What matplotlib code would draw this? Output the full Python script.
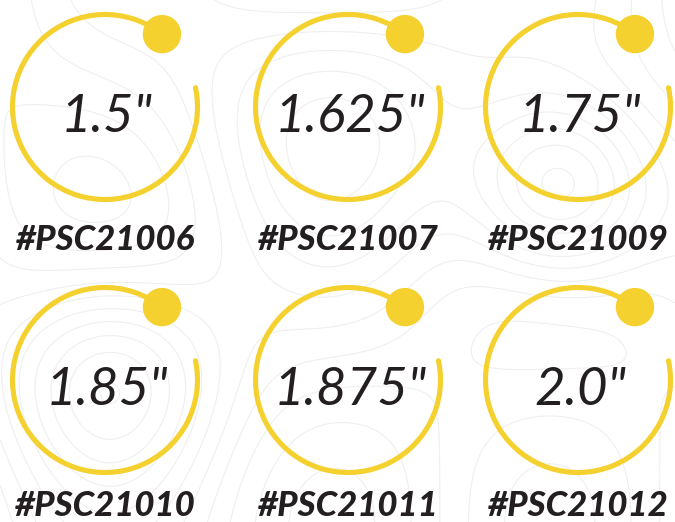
import numpy as np
import matplotlib
matplotlib.use("Agg")
import matplotlib.pyplot as plt
from matplotlib.patches import Arc, Circle

# gauge data
sizes = ['1.5"', '1.625"', '1.75"', '1.85"', '1.875"', '2.0"']
codes = ["#PSC21006", "#PSC21007", "#PSC21009", "#PSC21010", "#PSC21011", "#PSC21012"]

YELLOW = "#F4D12F"
INK = "#231F20"
W, H = 675, 522

col_x = [105, 348, 578]
row_y = [107, 380]          # image coords (from top)
label_y = [250, 516]        # label baselines, image coords
R = 92.5
ARC_START, ARC_END = 52, 372
DOT_R = 18.5

fig = plt.figure(figsize=(W / 100, H / 100), dpi=100)
ax = fig.add_axes([0, 0, 1, 1])
ax.set_xlim(0, W)
ax.set_ylim(0, H)
ax.set_aspect("equal")
ax.axis("off")

# faint topographic background
gx, gy = np.meshgrid(np.linspace(0, W, 300), np.linspace(0, H, 240))
terrain = (np.exp(-((gx - 560) ** 2 + (gy - 330) ** 2) / 9000.0)
           + 0.8 * np.exp(-((gx - 110) ** 2 + (gy - 150) ** 2) / 12000.0)
           + 0.6 * np.exp(-((gx - 330) ** 2 + (gy - 420) ** 2) / 20000.0)
           + 0.25 * np.sin(gx / 70.0) * np.cos(gy / 90.0))
ax.contour(gx, gy, terrain, levels=12, colors="#EFEFEF", linewidths=0.8,
           linestyles="solid", zorder=0)

for i, (size, code) in enumerate(zip(sizes, codes)):
    cx = col_x[i % 3]
    cy = H - row_y[i // 3]
    ax.add_patch(Arc((cx, cy), 2 * R, 2 * R, theta1=ARC_START, theta2=ARC_END,
                     color=YELLOW, lw=3.7, capstyle="round", zorder=2))
    a = np.deg2rad(ARC_START)
    ax.add_patch(Circle((cx + R * np.cos(a), cy + R * np.sin(a)), DOT_R,
                        color=YELLOW, zorder=3))
    ax.text(cx + 2, cy - 10, size, ha="center", va="center", fontsize=38,
            family="Lato", style="italic", weight="normal", color=INK, zorder=4)
    ax.text(cx, H - label_y[i // 3], code, ha="center", va="baseline", fontsize=25,
            family="Lato", style="italic", weight="black", color=INK, zorder=4)

fig.savefig("out.png", dpi=100, facecolor="white")
